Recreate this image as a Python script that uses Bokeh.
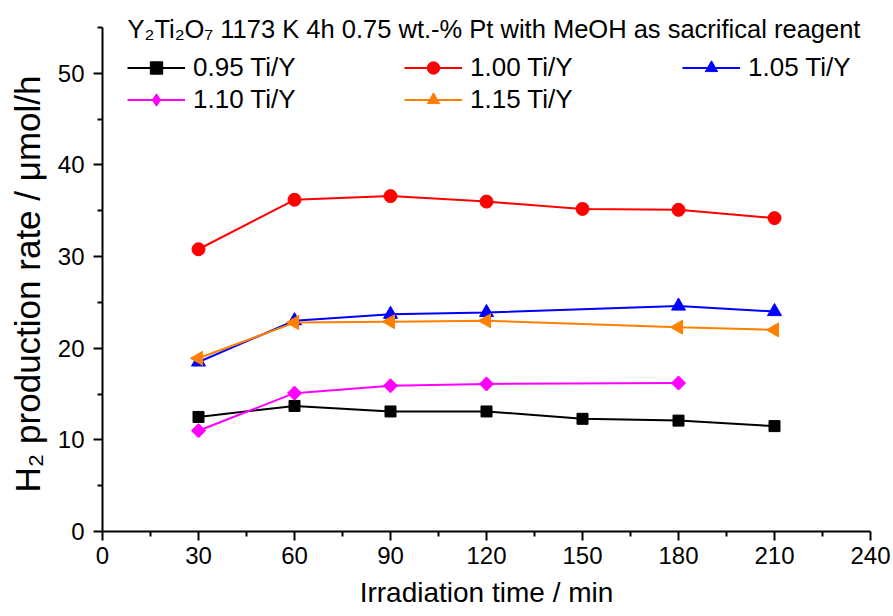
import math
from bokeh.plotting import figure
from bokeh.models import FixedTicker, Legend, LegendItem, Label, Range1d, Title
from bokeh.embed import file_html
from bokeh.resources import INLINE

# ---- data ----
t_095 = [30, 60, 90, 120, 150, 180, 210]
r_095 = [12.5, 13.7, 13.1, 13.1, 12.3, 12.1, 11.5]
t_100 = [30, 60, 90, 120, 150, 180, 210]
r_100 = [30.8, 36.2, 36.6, 36.0, 35.2, 35.1, 34.2]
t_105 = [30, 60, 90, 120, 180, 210]
r_105 = [18.5, 23.0, 23.7, 23.9, 24.6, 24.0]
t_110 = [30, 60, 90, 120, 180]
r_110 = [11.0, 15.1, 15.9, 16.1, 16.2]
t_115 = [30, 60, 90, 120, 180, 210]
r_115 = [18.9, 22.8, 22.9, 23.0, 22.3, 22.0]

labels = ["0.95 Ti/Y", "1.00 Ti/Y", "1.05 Ti/Y", "1.10 Ti/Y", "1.15 Ti/Y"]
x_ticks = [0, 30, 60, 90, 120, 150, 180, 210, 240]
x_minor = [15, 45, 75, 105, 135, 165, 195, 225]
y_ticks = [0, 10, 20, 30, 40, 50]
y_minor = [5, 15, 25, 35, 45, 55]
y_axis_max = 55
title_text = "Y\u2082Ti\u2082O\u2087 1173 K 4h 0.75 wt.-% Pt with MeOH as sacrifical reagent"
x_label = "Irradiation time / min"
y_label = "H\u2082 production rate / \u03bcmol/h"

FONT = "Liberation Sans"

# frame extends a little above the drawn axis so the in-plot title is not clipped
FRAME_TOP = 7
FRAME_BOTTOM = 616 - 85
y_top = y_axis_max * (FRAME_BOTTOM - FRAME_TOP) / (FRAME_BOTTOM - 27)

p = figure(width=893, height=616, output_backend="svg", toolbar_location=None,
           x_range=Range1d(0, 240), y_range=Range1d(0, y_top),
           min_border_left=100, min_border_right=23, min_border_top=FRAME_TOP, min_border_bottom=85)
p.outline_line_color = None
p.xgrid.visible = False
p.ygrid.visible = False
p.background_fill_color = "white"
p.border_fill_color = "white"

for ax in (p.xaxis[0], p.yaxis[0]):
    ax.axis_line_width = 2
    ax.major_tick_line_width = 2
    ax.minor_tick_line_width = 2
    ax.major_tick_out = 9
    ax.major_tick_in = 0
    ax.minor_tick_out = 5
    ax.minor_tick_in = 0
    ax.major_label_text_font = FONT
    ax.major_label_text_font_size = "24px"
    ax.major_label_text_color = "black"

p.xaxis.ticker = FixedTicker(ticks=x_ticks, minor_ticks=x_minor)
p.yaxis.ticker = FixedTicker(ticks=y_ticks, minor_ticks=y_minor)
p.yaxis.bounds = (0, y_axis_max)
p.xaxis.major_label_standoff = 6
p.yaxis.major_label_standoff = 9

# axis titles
p.add_layout(Title(text=x_label, align="center", text_font=FONT, text_font_size="28px",
                   text_font_style="normal", text_color="black", standoff=16, offset=0), "below")
p.add_layout(Title(text=y_label, align="left", vertical_align="middle", text_font=FONT,
                   text_font_size="35px", text_font_style="normal", text_color="black",
                   standoff=13, offset=39), "left")

lw = 2
l1 = p.line(t_095, r_095, line_color="black", line_width=lw)
m1 = p.scatter(t_095, r_095, marker="square", size=11, fill_color="black", line_color="black")
l2 = p.line(t_100, r_100, line_color="red", line_width=lw)
m2 = p.scatter(t_100, r_100, marker="circle", size=13, fill_color="red", line_color="red")
l3 = p.line(t_105, r_105, line_color="blue", line_width=lw)
m3 = p.scatter(t_105, r_105, marker="triangle", size=14, fill_color="blue", line_color="blue")
l4 = p.line(t_110, r_110, line_color="#FF00FF", line_width=lw)
m4 = p.scatter(t_110, r_110, marker="square", angle=math.pi / 4, size=10, fill_color="#FF00FF", line_color="#FF00FF")
l5 = p.line(t_115, r_115, line_color="#FF8000", line_width=lw)
m5 = p.scatter(t_115, r_115, marker="triangle", angle=math.pi / 2, size=14, fill_color="#FF8000", line_color="#FF8000")
# legend-only symbol for the diamond series (legend glyphs are drawn unrotated); nothing is plotted
m4_leg = p.scatter(x=[float("nan")], y=[float("nan")], marker="diamond", size=15,
                   fill_color="#FF00FF", line_color="#FF00FF")

H = 31
def make_legend(items, loc):
    lg = Legend(items=items, location=loc, orientation="vertical",
                border_line_color=None, background_fill_alpha=0,
                padding=0, margin=0, spacing=32 - H,
                glyph_width=58, glyph_height=H, label_height=H, label_standoff=8,
                label_text_font=FONT, label_text_font_size="26px", label_text_color="black")
    p.add_layout(lg, "center")
    return lg

make_legend([LegendItem(label=labels[0], renderers=[l1, m1]),
             LegendItem(label=labels[3], renderers=[l4, m4_leg])], (25, 431 - H // 2))
make_legend([LegendItem(label=labels[1], renderers=[l2, m2]),
             LegendItem(label=labels[4], renderers=[l5, m5])], (302, 431 - H // 2))
make_legend([LegendItem(label=labels[2], renderers=[l3, m3])], (580, 463 - H // 2))

p.add_layout(Label(x=25, y=503, x_units="screen", y_units="screen", text=title_text,
                   text_font=FONT, text_font_size="25.5px", text_color="black",
                   text_baseline="alphabetic"))

open("out.html", "w").write(file_html(p, INLINE))
